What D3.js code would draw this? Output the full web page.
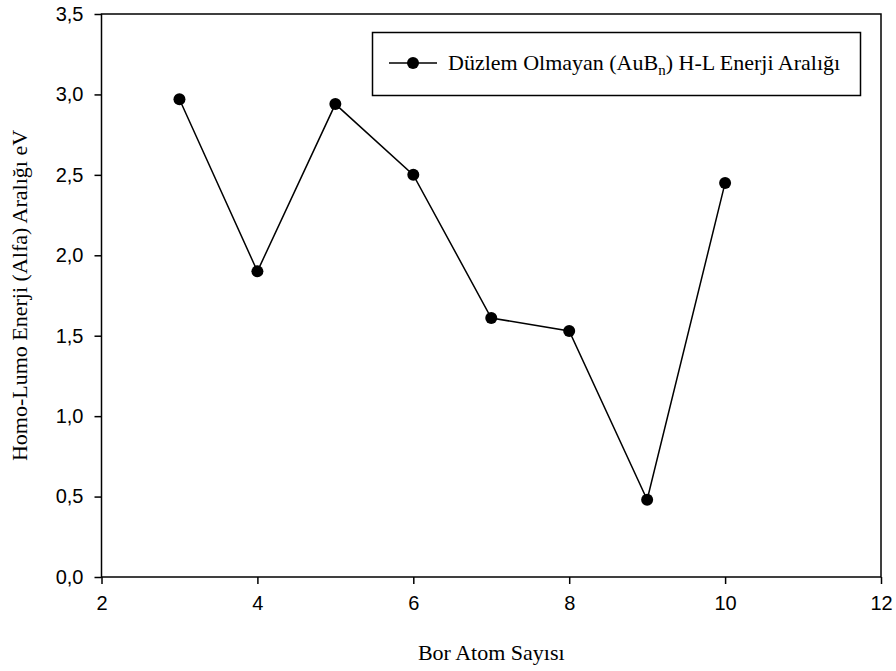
<!DOCTYPE html>
<html>
<head>
<meta charset="utf-8">
<script src="https://cdn.jsdelivr.net/npm/d3@7"></script>
<style>
  body { margin: 0; background: #fff; }
  .tick text { font-family: "Liberation Sans", Arial, sans-serif; font-size: 20px; fill: #000; }
  .title { font-family: "Liberation Serif", "Times New Roman", serif; font-size: 22px; fill: #000; }
</style>
</head>
<body>
<svg id="chart" width="896" height="671"></svg>
<script>
// data
var boronCount = [3, 4, 5, 6, 7, 8, 9, 10];
var gapValues = [2.97, 1.90, 2.94, 2.50, 1.61, 1.53, 0.48, 2.45];
var xTicks = [2, 4, 6, 8, 10, 12];
var yTicks = [0, 0.5, 1, 1.5, 2, 2.5, 3, 3.5];

var svg = d3.select('#chart');
var width = 896, height = 671;
var margins = { top: 14, bottom: 94, left: 101.5, right: 15 };

var x = d3.scaleLinear()
  .domain([2, 12])
  .range([margins.left, width - margins.right]);
var y = d3.scaleLinear()
  .domain([0, 3.5])
  .range([height - margins.bottom, margins.top]);

var fmt = function(d) { return d3.format('.1f')(d).replace('.', ','); };

// frame
svg.append('rect')
  .attr('x', x(2)).attr('y', y(3.5))
  .attr('width', x(12) - x(2)).attr('height', y(0) - y(3.5))
  .attr('fill', 'none').attr('stroke', '#000').attr('stroke-width', 1.5);

svg.append('g')
  .attr('transform', 'translate(0,' + y(0) + ')')
  .call(d3.axisBottom(x).tickValues(xTicks).tickSize(7).tickPadding(12).tickSizeOuter(0))
  .call(function(g) { g.select('.domain').remove(); })
  .call(function(g) { g.selectAll('line').attr('stroke-width', 1.5); });

svg.append('g')
  .attr('transform', 'translate(' + x(2) + ',0)')
  .call(d3.axisLeft(y).tickValues(yTicks).tickFormat(fmt).tickSize(7).tickPadding(11).tickSizeOuter(0))
  .call(function(g) { g.select('.domain').remove(); })
  .call(function(g) { g.selectAll('line').attr('stroke-width', 1.5); });

// axis titles
svg.append('text')
  .attr('class', 'title')
  .attr('x', (x(2) + x(12)) / 2)
  .attr('y', 660)
  .attr('text-anchor', 'middle')
  .text('Bor Atom Sayısı');

svg.append('text')
  .attr('class', 'title')
  .attr('transform', 'translate(27,' + ((y(0) + y(3.5)) / 2) + ') rotate(-90)')
  .attr('text-anchor', 'middle')
  .text('Homo-Lumo Enerji (Alfa) Aralığı eV');

// series
var pts = boronCount.map(function(b, i) { return { b: b, v: gapValues[i] }; });
var line = d3.line()
  .x(function(d) { return x(d.b); })
  .y(function(d) { return y(d.v); });

svg.append('path')
  .datum(pts)
  .attr('d', line)
  .attr('fill', 'none')
  .attr('stroke', '#000')
  .attr('stroke-width', 1.5);

svg.selectAll('circle.pt')
  .data(pts)
  .enter()
  .append('circle')
  .attr('class', 'pt')
  .attr('cx', function(d) { return x(d.b); })
  .attr('cy', function(d) { return y(d.v); })
  .attr('r', 6)
  .attr('fill', '#000');

// legend
var lg = svg.append('g');
lg.append('rect')
  .attr('x', 372.5).attr('y', 32.5)
  .attr('width', 488).attr('height', 63)
  .attr('fill', '#fff').attr('stroke', '#000').attr('stroke-width', 1.5);
lg.append('line')
  .attr('x1', 389).attr('x2', 437).attr('y1', 63).attr('y2', 63)
  .attr('stroke', '#000').attr('stroke-width', 1.5);
lg.append('circle')
  .attr('cx', 413).attr('cy', 63).attr('r', 6).attr('fill', '#000');
var lt = lg.append('text')
  .attr('class', 'title')
  .attr('x', 448).attr('y', 70);
lt.append('tspan').text('Düzlem Olmayan (AuB');
lt.append('tspan').attr('font-size', '15px').attr('dy', 5).text('n');
lt.append('tspan').attr('dy', -5).text(') H-L Enerji Aralığı');
</script>
</body>
</html>
